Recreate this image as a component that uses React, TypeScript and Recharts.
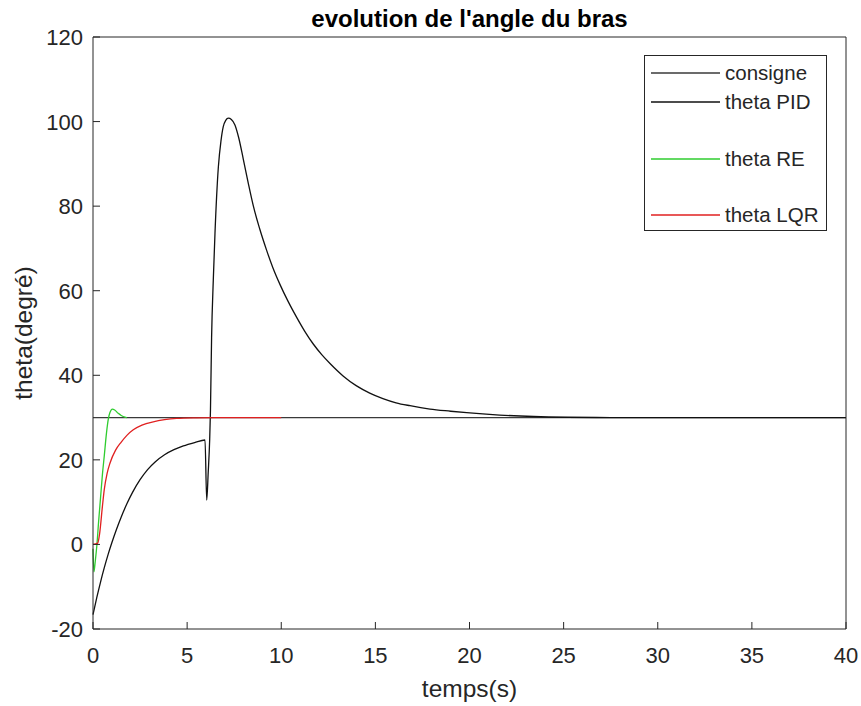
import React from 'react';
import { Label, Line, LineChart, XAxis, YAxis } from 'recharts';

// values
const xTicks = [0, 5, 10, 15, 20, 25, 30, 35, 40];
const yTicks = [-20, 0, 20, 40, 60, 80, 100, 120];

const consigneTime = [0, 40];
const consigneTheta = [30, 30];

const pidTime = [
    0, 0.2, 0.4, 0.6, 0.8, 1.0, 1.25, 1.5, 1.8, 2.1, 2.5, 2.9, 3.3, 3.8, 4.3, 4.8, 5.4, 5.95,
    6.04, 6.12, 6.2, 6.24, 6.3, 6.39, 6.48, 6.66, 6.8, 6.92, 7.05, 7.19, 7.35, 7.54, 7.75, 7.98, 8.25, 8.52, 8.85, 9.22,
    9.55, 9.93, 10.35, 10.82, 11.25, 11.7, 12.15, 12.59, 13.3, 14, 14.7, 15.4, 16.1, 16.84, 17.9, 19, 19.85, 21.6, 23.4,
    25.2, 27.5, 30, 35, 40,
];
const pidTheta = [
    -16.6, -12.6, -8.9, -5.5, -2.4, 0.4, 3.6, 6.5, 9.6, 12.3, 15.3, 17.7, 19.5, 21.2, 22.4, 23.3, 24.1, 24.7,
    10.5, 17, 25, 31.8, 49, 62.5, 73.6, 89.3, 95.5, 98.8, 100.3, 100.8, 100.5, 99.2, 96, 91.2, 85.4, 80, 74.7, 69.6,
    65.5, 61.5, 57.6, 53.7, 50.4, 47.4, 44.9, 42.8, 39.8, 37.5, 35.8, 34.5, 33.5, 32.8, 32, 31.5, 31.15, 30.6, 30.25,
    30.08, 30.01, 30, 30, 30,
];

const reTime = [0, 0.05, 0.12, 0.2, 0.3, 0.4, 0.5, 0.6, 0.72, 0.82, 0.9, 1.03, 1.15, 1.34, 1.5, 1.7, 1.8];
const reTheta = [-1, -6.5, -4, -0.5, 5.5, 11, 16.5, 21, 26.5, 29.8, 31.2, 32, 31.8, 31, 30.5, 30.1, 30];

const lqrTime = [0, 0.25, 0.35, 0.5, 0.6, 0.75, 0.9, 1.2, 1.5, 1.8, 2.14, 2.6, 3.2, 3.8, 4.44, 5.5, 6.5, 10];
const lqrTheta = [0, 0.3, 2.5, 9, 13, 16.8, 19.2, 22.3, 24.2, 25.8, 27.1, 28.2, 29, 29.5, 29.8, 29.95, 30, 30];

const toPoints = (ts: number[], vs: number[]) => ts.map((t, i) => ({ t, v: vs[i] }));

const series = [
    { name: 'consigne', color: '#3a3a3a', data: toPoints(consigneTime, consigneTheta) },
    { name: 'theta PID', color: '#111111', data: toPoints(pidTime, pidTheta) },
    { name: 'theta RE', color: '#2fcc2f', data: toPoints(reTime, reTheta) },
    { name: 'theta LQR', color: '#e02020', data: toPoints(lqrTime, lqrTheta) },
];

const axisColor = '#262626';
const font = '"Liberation Sans", Arial, sans-serif';
const TICK = 7;

const BottomTick = ({ x, y, payload }: any) => (
    <g>
        <line x1={x} y1={y} x2={x} y2={y - TICK} stroke={axisColor} />
        <text x={x} y={y + 34} textAnchor="middle" fontSize={22} fontFamily={font} fill={axisColor}>
            {payload.value}
        </text>
    </g>
);

const LeftTick = ({ x, y, payload }: any) => (
    <g>
        <line x1={x} y1={y} x2={x + TICK} y2={y} stroke={axisColor} />
        <text x={x - 10} y={y + 8} textAnchor="end" fontSize={22} fontFamily={font} fill={axisColor}>
            {payload.value}
        </text>
    </g>
);

const TopTick = ({ x, y }: any) => <line x1={x} y1={y} x2={x} y2={y + TICK} stroke={axisColor} />;
const RightTick = ({ x, y }: any) => <line x1={x} y1={y} x2={x - TICK} y2={y} stroke={axisColor} />;

const legendRows = [17, 46, 103, 159];

const ChartLegend = () => (
    <div
        style={{
            position: 'absolute',
            left: 644,
            top: 55,
            width: 181,
            height: 174,
            border: `1px solid ${axisColor}`,
            background: '#fff',
            fontFamily: font,
        }}
    >
        {series.map((s, i) => (
            <div
                key={s.name}
                style={{ position: 'absolute', left: 6, top: legendRows[i] - 13, height: 26, display: 'flex', alignItems: 'center' }}
            >
                <svg width={69} height={4} style={{ display: 'block' }}>
                    <line x1={0} y1={2} x2={69} y2={2} stroke={s.color} strokeWidth={1.5} />
                </svg>
                <span style={{ marginLeft: 5, fontSize: 20.5, color: axisColor, whiteSpace: 'nowrap' }}>{s.name}</span>
            </div>
        ))}
    </div>
);

export default function App() {
    return (
        <div style={{ position: 'absolute', left: 0, top: 0, width: 861, height: 706, background: '#fff' }}>
            <LineChart width={861} height={706} margin={{ top: 27, right: 5, bottom: 47, left: 33 }}>
                <XAxis
                    dataKey="t"
                    type="number"
                    domain={[0, 40]}
                    ticks={xTicks}
                    interval={0}
                    height={30}
                    tickSize={0}
                    tickMargin={0}
                    tickLine={false}
                    tick={<BottomTick />}
                    stroke={axisColor}
                >
                    <Label
                        content={({ viewBox }: any) => (
                            <text x={viewBox.x + viewBox.width / 2} y={viewBox.y + 68} textAnchor="middle" fontSize={24.5} fontFamily={font} fill={axisColor}>
                                temps(s)
                            </text>
                        )}
                    />
                </XAxis>
                <XAxis
                    xAxisId="top"
                    orientation="top"
                    type="number"
                    domain={[0, 40]}
                    ticks={xTicks}
                    interval={0}
                    height={10}
                    tickSize={0}
                    tickMargin={0}
                    tickLine={false}
                    tick={<TopTick />}
                    stroke={axisColor}
                >
                    <Label
                        content={({ viewBox }: any) => (
                            <text x={viewBox.x + viewBox.width / 2} y={viewBox.y} textAnchor="middle" fontSize={24} fontWeight="bold" fontFamily={font} fill="#000">
                                evolution de l'angle du bras
                            </text>
                        )}
                    />
                </XAxis>
                <YAxis
                    type="number"
                    domain={[-20, 120]}
                    ticks={yTicks}
                    interval={0}
                    width={60}
                    tickSize={0}
                    tickMargin={0}
                    tickLine={false}
                    tick={<LeftTick />}
                    stroke={axisColor}
                >
                    <Label
                        content={({ viewBox }: any) => {
                            const cx = viewBox.x - 1;
                            const cy = viewBox.y + viewBox.height / 2;
                            return (
                                <text x={cx} y={cy} transform={`rotate(-90, ${cx}, ${cy})`} textAnchor="middle" fontSize={24.5} fontFamily={font} fill={axisColor}>
                                    theta(degré)
                                </text>
                            );
                        }}
                    />
                </YAxis>
                <YAxis
                    yAxisId="right"
                    orientation="right"
                    type="number"
                    domain={[-20, 120]}
                    ticks={yTicks}
                    interval={0}
                    width={10}
                    tickSize={0}
                    tickMargin={0}
                    tickLine={false}
                    tick={<RightTick />}
                    stroke={axisColor}
                />
                {series.map((s) => (
                    <Line
                        key={s.name}
                        data={s.data}
                        dataKey="v"
                        name={s.name}
                        type="monotone"
                        stroke={s.color}
                        strokeWidth={1.3}
                        dot={false}
                        activeDot={false}
                        isAnimationActive={false}
                    />
                ))}
            </LineChart>
            <ChartLegend />
        </div>
    );
}
